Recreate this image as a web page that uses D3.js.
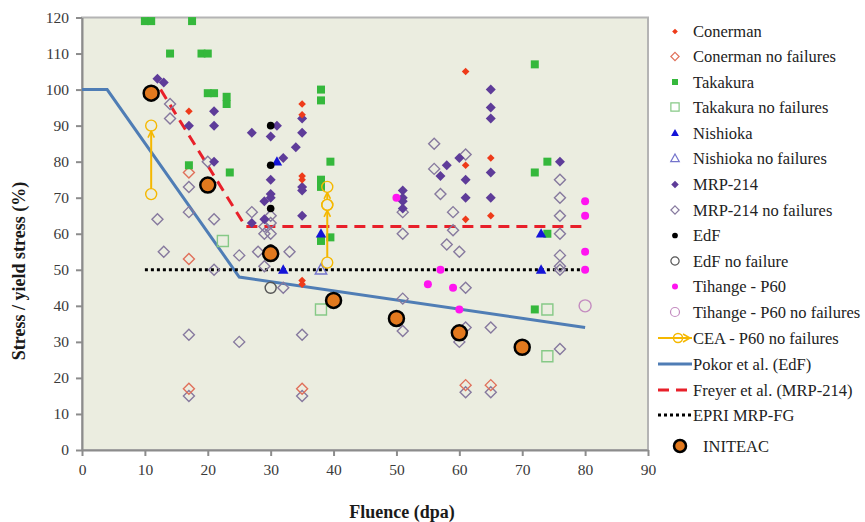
<!DOCTYPE html>
<head>
    <meta charset="utf-8">
    <title>Stress / yield stress vs fluence</title>
    <script src="https://cdn.jsdelivr.net/npm/d3@7/dist/d3.min.js" charset="utf-8"></script>
    <style>
        body { margin: 0; background: #fff; }
        svg text { font-family: "Liberation Serif", "Times New Roman", serif; }
        .axis path, .axis line { stroke: #8c8c8c; }
        .axis text { font-size: 15.5px; fill: #3a3a3a; }
    </style>
</head>
<body>
<svg id="chart" width="865" height="522"></svg>
<script>
    // ---- data ----
    var xTicks = [0, 10, 20, 30, 40, 50, 60, 70, 80, 90];
    var yTicks = [0, 10, 20, 30, 40, 50, 60, 70, 80, 90, 100, 110, 120];

    var conerman = [[17, 94], [35, 96], [35, 93], [35, 76], [35, 75], [35, 47], [35, 46],
        [61, 105], [61, 79], [61, 64], [65, 81], [65, 65]];
    var conermanNF = [[17, 77], [17, 53], [17, 17], [35, 17], [61, 18], [65, 18]];
    var takakura = [[10, 119], [11, 119], [17.5, 119], [14, 110], [19, 110], [20, 110], [20, 99], [21, 99],
        [23, 98], [23, 96], [17, 79], [23.5, 77], [38, 100], [38, 97], [39.5, 80], [38, 75], [38, 73],
        [38, 58], [39.5, 59], [72, 107], [74, 80], [72, 77], [74, 60], [72, 39]];
    var takakuraNF = [[22.4, 58], [38, 39], [74, 39], [74, 26]];
    var nishioka = [[31, 80], [32, 50], [38, 60], [73, 60], [73, 50]];
    var nishiokaNF = [[38, 50]];
    var mrp = [[12, 103], [13, 102], [17, 90], [21, 94], [21, 90], [21, 80], [27, 88], [27, 63], [29, 69],
        [29, 64], [30, 87], [30, 75], [30, 71], [30, 70], [31, 90], [32, 81], [34, 84], [35, 92], [35, 88],
        [35, 73], [35, 72], [35, 65], [51, 72], [51, 70], [51, 69], [51, 67], [57, 76], [58, 79], [60, 81],
        [61, 75], [61, 70], [65, 100], [65, 95], [65, 92], [65, 77], [65, 70], [76, 80]];
    var mrpNF = [[12, 64], [14, 96], [14, 92], [17, 73], [17, 66], [20, 80], [21, 64], [27, 66], [13, 55],
        [21, 50], [17, 32], [25, 54], [25, 30], [17, 15], [28, 55], [29, 51], [29, 62], [29, 60], [30, 65],
        [30, 63], [30, 60], [33, 55], [32, 45], [35, 32], [35, 15], [51, 66], [51, 60], [51, 42], [51, 33],
        [56, 85], [56, 78], [57, 71], [59, 66], [59, 61], [58, 57], [60, 55], [61, 82], [61, 45], [61, 34],
        [60, 30], [65, 34], [61, 16], [65, 16], [76, 75], [76, 70], [76, 65], [76, 60], [76, 54], [76, 51],
        [76, 50], [76, 28]];
    var edf = [[30, 90], [30, 79], [30, 67], [30, 56]];
    var edfNF = [[30, 45]];
    var tihange = [[50, 70], [57, 50], [55, 46], [59, 45], [60, 39], [80, 69], [80, 65], [80, 55], [80, 50]];
    var tihangeNF = [[80, 40]];
    var cea = [[[11, 71], [11, 90]], [[39, 52], [39, 68]], [[39, 68], [39, 73]]];
    var initeac = [[11, 99], [20, 73.5], [30, 54.5], [40, 41.5], [50, 36.5], [60, 32.5], [70, 28.5]];
    var pokor = [[0, 100], [4, 100], [25, 48], [80, 34]];
    var freyer = [[12.5, 100], [26, 62], [80, 62]];
    var epri = [[10, 50], [80, 50]];

    // ---- layout ----
    var svg = d3.select("#chart");
    var x = d3.scaleLinear().domain([0, 90]).range([82, 648]);
    var y = d3.scaleLinear().domain([0, 120]).range([450, 17.5]);

    svg.append("rect")
        .attr("x", x(0)).attr("y", y(120))
        .attr("width", x(90) - x(0)).attr("height", y(0) - y(120))
        .attr("fill", "#ebede0")
        .attr("stroke", "#b4b4b4").attr("stroke-width", 2);

    svg.append("g").attr("class", "axis")
        .attr("transform", "translate(" + x(0) + ",0)")
        .call(d3.axisLeft(y).tickValues(yTicks).tickSize(6).tickPadding(7).tickSizeOuter(0))
        .call(function (g) { g.selectAll("path, line").attr("stroke-width", 2); });

    svg.append("g").attr("class", "axis")
        .attr("transform", "translate(0," + y(0) + ")")
        .call(d3.axisBottom(x).tickValues(xTicks).tickSize(6).tickPadding(8).tickSizeOuter(0))
        .call(function (g) { g.selectAll("path, line").attr("stroke-width", 2); });

    svg.append("text")
        .attr("transform", "translate(25,271) rotate(-90)")
        .attr("text-anchor", "middle")
        .attr("font-weight", "bold").attr("font-size", 18).attr("fill", "#1a1a1a")
        .text("Stress / yield stress (%)");

    svg.append("text")
        .attr("x", 402).attr("y", 518)
        .attr("text-anchor", "middle")
        .attr("font-weight", "bold").attr("font-size", 18).attr("fill", "#1a1a1a")
        .text("Fluence (dpa)");

    // ---- shapes ----
    function shape(type, r) {
        if (type === "diamond") return "M0," + (-r) + "L" + r + ",0L0," + r + "L" + (-r) + ",0Z";
        if (type === "square") return "M" + (-r) + "," + (-r) + "h" + 2 * r + "v" + 2 * r + "h" + (-2 * r) + "Z";
        if (type === "triangle") return "M0," + (-r) + "L" + (r * 0.95) + "," + (r * 0.7) + "L" + (-r * 0.95) + "," + (r * 0.7) + "Z";
        return d3.symbol(d3.symbolCircle, Math.PI * r * r)();
    }

    var styles = {
        conerman: {type: "diamond", r: 3.8, fill: "#ee3b1a", stroke: "none"},
        conermanNF: {type: "diamond", r: 5.5, fill: "none", stroke: "#e0705a"},
        takakura: {type: "square", r: 4, fill: "#35b83c", stroke: "none"},
        takakuraNF: {type: "square", r: 5.5, fill: "none", stroke: "#86c986"},
        nishioka: {type: "triangle", r: 5.5, fill: "#1414d8", stroke: "none"},
        nishiokaNF: {type: "triangle", r: 6, fill: "none", stroke: "#7474cc"},
        mrp: {type: "diamond", r: 5, fill: "#5e3c99", stroke: "none"},
        mrpNF: {type: "diamond", r: 5.5, fill: "none", stroke: "#86799e"},
        edf: {type: "circle", r: 3.8, fill: "#000", stroke: "none"},
        edfNF: {type: "circle", r: 5.5, fill: "none", stroke: "#555"},
        tihange: {type: "circle", r: 4, fill: "#ff14f0", stroke: "none"},
        tihangeNF: {type: "circle", r: 6, fill: "none", stroke: "#c48cc0"},
        cea: {type: "circle", r: 5.5, fill: "none", stroke: "#f5b800"}
    };

    function drawPoints(data, st) {
        svg.append("g").selectAll("path").data(data).join("path")
            .attr("transform", function (d) { return "translate(" + x(d[0]) + "," + y(d[1]) + ")"; })
            .attr("d", shape(st.type, st.r))
            .attr("fill", st.fill).attr("stroke", st.stroke).attr("stroke-width", 1.4);
    }

    // ---- lines ----
    var line = d3.line().x(function (d) { return x(d[0]); }).y(function (d) { return y(d[1]); });

    svg.append("path").datum(pokor).attr("d", line)
        .attr("fill", "none").attr("stroke", "#4f7db5").attr("stroke-width", 3);
    svg.append("path").datum(freyer).attr("d", line)
        .attr("fill", "none").attr("stroke", "#e8202a").attr("stroke-width", 3)
        .attr("stroke-dasharray", "11,7");
    svg.append("path").datum(epri).attr("d", line)
        .attr("fill", "none").attr("stroke", "#000").attr("stroke-width", 3)
        .attr("stroke-dasharray", "3,3");

    drawPoints(mrpNF, styles.mrpNF);
    drawPoints(conermanNF, styles.conermanNF);
    drawPoints(takakuraNF, styles.takakuraNF);
    drawPoints(nishiokaNF, styles.nishiokaNF);
    drawPoints(edfNF, styles.edfNF);
    drawPoints(tihangeNF, styles.tihangeNF);
    drawPoints(takakura, styles.takakura);
    drawPoints(mrp, styles.mrp);
    drawPoints(conerman, styles.conerman);
    drawPoints(nishioka, styles.nishioka);
    drawPoints(edf, styles.edf);
    drawPoints(tihange, styles.tihange);

    // CEA arrows
    svg.append("defs").append("marker")
        .attr("id", "arrow").attr("viewBox", "0 0 10 10")
        .attr("refX", 9).attr("refY", 5)
        .attr("markerWidth", 4).attr("markerHeight", 4)
        .attr("orient", "auto")
        .append("path").attr("d", "M1,1L9,5L1,9")
        .attr("fill", "none").attr("stroke", "#f5b800").attr("stroke-width", 2);

    svg.append("g").selectAll("line").data(cea).join("line")
        .attr("x1", function (d) { return x(d[0][0]); })
        .attr("y1", function (d) { return y(d[0][1]) - 5.5; })
        .attr("x2", function (d) { return x(d[1][0]); })
        .attr("y2", function (d) { return y(d[1][1]) + 5.5; })
        .attr("stroke", "#f5b800").attr("stroke-width", 2)
        .attr("marker-end", "url(#arrow)");
    drawPoints(cea.flat(), styles.cea);

    svg.append("g").selectAll("circle").data(initeac).join("circle")
        .attr("cx", function (d) { return x(d[0]); })
        .attr("cy", function (d) { return y(d[1]); })
        .attr("r", 7.5)
        .attr("fill", "#e2791e").attr("stroke", "#000").attr("stroke-width", 2.5);

    // ---- legend ----
    var legendPoints = [
        ["Conerman", "conerman", 31.5],
        ["Conerman no failures", "conermanNF", 56.5],
        ["Takakura", "takakura", 82],
        ["Takakura no failures", "takakuraNF", 107],
        ["Nishioka", "nishioka", 133],
        ["Nishioka no failures", "nishiokaNF", 158.5],
        ["MRP-214", "mrp", 184.5],
        ["MRP-214 no failures", "mrpNF", 210],
        ["EdF", "edf", 235.5],
        ["EdF no failure", "edfNF", 261],
        ["Tihange - P60", "tihange", 286.5],
        ["Tihange - P60 no failures", "tihangeNF", 312]
    ];
    var legendLines = [
        ["CEA - P60 no failures", 338],
        ["Pokor et al. (EdF)", 364],
        ["Freyer et al. (MRP-214)", 390],
        ["EPRI MRP-FG", 415]
    ];

    var leg = svg.append("g");
    legendPoints.forEach(function (d) {
        var st = styles[d[1]];
        leg.append("path")
            .attr("transform", "translate(675," + d[2] + ")")
            .attr("d", shape(st.type, st.r * 0.75))
            .attr("fill", st.fill).attr("stroke", st.stroke).attr("stroke-width", 1.2);
        leg.append("text").attr("x", 693).attr("y", d[2]).attr("dy", "0.35em")
            .attr("font-size", 16.5).attr("fill", "#222").text(d[0]);
    });

    legendLines.forEach(function (d, i) {
        var ly = d[1];
        var l = leg.append("line").attr("x1", 658).attr("x2", 692).attr("y1", ly).attr("y2", ly)
            .attr("stroke-width", 3);
        if (i === 0) {
            l.attr("stroke", "#f5b800").attr("stroke-width", 2);
            leg.append("circle").attr("cx", 678).attr("cy", ly).attr("r", 4.5)
                .attr("fill", "none").attr("stroke", "#f5b800").attr("stroke-width", 1.5);
            leg.append("path").attr("d", "M683," + (ly - 4) + "L690," + ly + "L683," + (ly + 4))
                .attr("fill", "none").attr("stroke", "#f5b800").attr("stroke-width", 1.5);
        } else if (i === 1) {
            l.attr("stroke", "#4f7db5");
        } else if (i === 2) {
            l.attr("stroke", "#e8202a").attr("stroke-dasharray", "11,7");
        } else {
            l.attr("stroke", "#000").attr("stroke-dasharray", "3,3");
        }
        leg.append("text").attr("x", 693).attr("y", ly).attr("dy", "0.35em")
            .attr("font-size", 16.5).attr("fill", "#222").text(d[0]);
    });

    leg.append("circle").attr("cx", 680).attr("cy", 446).attr("r", 6)
        .attr("fill", "#e2791e").attr("stroke", "#000").attr("stroke-width", 2.5);
    leg.append("text").attr("x", 703).attr("y", 446).attr("dy", "0.35em")
        .attr("font-size", 16.5).attr("fill", "#222").text("INITEAC");
</script>
</body>
